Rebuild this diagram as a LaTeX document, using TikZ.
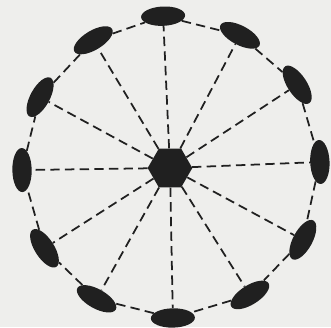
\documentclass[tikz,border=0pt]{standalone}
\usepackage{tikz}
\usetikzlibrary{shapes.geometric}
\definecolor{paper}{RGB}{238,238,236}
\definecolor{ink}{RGB}{32,32,32}

\begin{document}
\begin{tikzpicture}[
    x=0.03cm, y=0.03cm,
    blob/.style={ellipse, fill=ink, minimum width=1.32cm, minimum height=0.58cm, inner sep=0pt},
    hub/.style={regular polygon, regular polygon sides=6, fill=ink, minimum size=1.34cm, inner sep=0pt},
    link/.style={dashed, dash pattern=on 8pt off 4.5pt, line width=1.5pt, draw=ink}
]
\useasboundingbox[fill=paper] (-170,-159) rectangle (161,168);

\node[hub] (H) at (0,0) {};
\node[blob, rotate=2.6]    (N1)  at (92.6:152) {};
\node[blob, rotate=-27.8]  (N2)  at (62.2:150) {};
\node[blob, rotate=-56.8]  (N3)  at (33.2:152) {};
\node[blob, rotate=-87.7]  (N4)  at (2.3:150) {};
\node[blob, rotate=61.6]   (N5)  at (-28.4:151) {};
\node[blob, rotate=32.2]   (N6)  at (-57.8:150) {};
\node[blob, rotate=1.1]    (N7)  at (-88.9:150) {};
\node[blob, rotate=-29.3]  (N8)  at (-119.3:150) {};
\node[blob, rotate=-57.4]  (N9)  at (-147.4:149) {};
\node[blob, rotate=90.8]   (N10) at (180.8:148) {};
\node[blob, rotate=61.4]   (N11) at (151.4:148) {};
\node[blob, rotate=31]     (N12) at (121:149) {};

% ring
\draw[link] (N1) -- (N2) -- (N3) -- (N4) -- (N5) -- (N6) -- (N7)
    -- (N8) -- (N9) -- (N10) -- (N11) -- (N12) -- (N1);

% spokes
\draw[link] (H) -- (N1);
\draw[link] (H) -- (N2);
\draw[link] (H) -- (N3);
\draw[link] (H) -- (N4);
\draw[link] (H) -- (N5);
\draw[link] (H) -- (N6);
\draw[link] (H) -- (N7);
\draw[link] (H) -- (N8);
\draw[link] (H) -- (N9);
\draw[link] (H) -- (N10);
\draw[link] (H) -- (N11);
\draw[link] (H) -- (N12);
\end{tikzpicture}
\end{document}
